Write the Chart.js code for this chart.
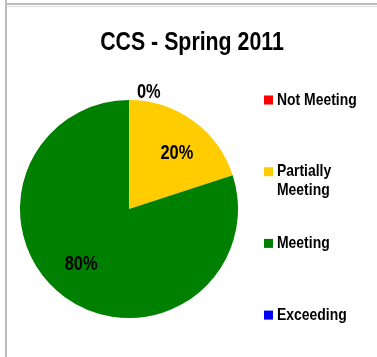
<!DOCTYPE html>
<html>
<head>
<meta charset="utf-8">
<script src="https://cdn.jsdelivr.net/npm/chart.js@4.4.0/dist/chart.umd.min.js"></script>
<style>
    body { margin: 0; background: #ffffff; }
    #wrap { position: relative; width: 377px; height: 357px; overflow: hidden; }
    #myChart { position: absolute; left: 0; top: 0; }
    .line-v { position: absolute; left: 5px; top: 0; width: 2px; height: 357px; background: #bcbcbc; }
    .line-h { position: absolute; left: 7px; top: 3px; width: 370px; height: 2px; background: #bcbcbc; }
    .line-h2 { position: absolute; left: 7px; top: 6px; width: 370px; height: 1px; background: #dcdcdc; }
</style>
</head>
<body>
<div id="wrap">
    <canvas id="myChart" width="377" height="357"></canvas>
    <div class="line-v"></div>
    <div class="line-h"></div>
    <div class="line-h2"></div>
</div>
<script>
// chart data
const chartTitle = 'CCS - Spring 2011';
const categories = ['Not Meeting', 'Partially Meeting', 'Meeting', 'Exceeding'];
const percentValues = [0, 20, 80, 0];
const sliceColors = ['#ff0000', '#ffcc00', '#008000', '#0000ff'];

const fontFamily = "'Liberation Sans', Arial, sans-serif";
// no narrow font installed, so squeeze the text a bit like Arial Narrow
const squeeze = 0.82;

function narrowText(ctx, text, x, y) {
    ctx.save();
    ctx.translate(x, y);
    ctx.scale(squeeze, 1);
    ctx.fillText(text, 0, 0);
    ctx.restore();
}

// draws the title, the percent labels and the legend like the excel chart
const excelLook = {
    id: 'excelLook',
    afterDraw(chart) {
        const ctx = chart.ctx;
        const meta = chart.getDatasetMeta(0);
        ctx.save();
        ctx.fillStyle = '#000000';

        // title
        ctx.font = `bold 26px ${fontFamily}`;
        ctx.textAlign = 'center';
        ctx.textBaseline = 'middle';
        narrowText(ctx, chartTitle, 192, 43);

        // percent labels
        ctx.font = `bold 20px ${fontFamily}`;
        const done = [];
        meta.data.forEach((arc, i) => {
            const p = arc.getProps(['x', 'y', 'startAngle', 'endAngle', 'outerRadius']);
            const value = chart.data.datasets[0].data[i];
            const text = `${value}%`;
            if (value === 0) {
                // zero slices sit outside the pie, at the slice angle
                const a = p.startAngle;
                const px = p.x + Math.cos(a) * p.outerRadius;
                const py = p.y + Math.sin(a) * p.outerRadius;
                const key = Math.round(px) + ',' + Math.round(py);
                if (done.includes(key)) return;
                done.push(key);
                ctx.textAlign = 'left';
                ctx.textBaseline = 'alphabetic';
                narrowText(ctx, text, px + 8, py - 2);
            } else {
                const mid = (p.startAngle + p.endAngle) / 2 + 5 * Math.PI / 180;
                const r = p.outerRadius * 0.67;
                ctx.textAlign = 'center';
                ctx.textBaseline = 'middle';
                narrowText(ctx, text, p.x + Math.cos(mid) * r, p.y + Math.sin(mid) * r);
            }
        });

        // legend on the right
        ctx.font = `bold 17px ${fontFamily}`;
        ctx.textAlign = 'left';
        ctx.textBaseline = 'middle';
        const legendX = 264;
        const legendTop = 100;
        const legendStep = 71.7;
        const maxWidth = 95;
        categories.forEach((name, i) => {
            const y = legendTop + i * legendStep;
            ctx.fillStyle = sliceColors[i];
            ctx.fillRect(legendX, y - 4.5, 9, 9);

            // wrap the label on words
            const words = name.split(' ');
            const lines = [];
            let line = '';
            words.forEach(w => {
                const test = line ? line + ' ' + w : w;
                if (ctx.measureText(test).width * squeeze > maxWidth && line) {
                    lines.push(line);
                    line = w;
                } else {
                    line = test;
                }
            });
            lines.push(line);

            ctx.fillStyle = '#000000';
            lines.forEach((l, j) => {
                narrowText(ctx, l, legendX + 13, y + j * 18.5);
            });
        });
        ctx.restore();
    }
};

const ctx = document.getElementById('myChart').getContext('2d');
const chart = new Chart(ctx, {
    type: 'pie',
    data: {
        labels: categories,
        datasets: [{
            data: percentValues,
            backgroundColor: sliceColors,
            borderWidth: 0
        }]
    },
    options: {
        responsive: false,
        animation: false,
        devicePixelRatio: 1,
        layout: {
            padding: { left: 20, top: 100, right: 139, bottom: 39 }
        },
        plugins: {
            legend: { display: false },
            title: { display: false },
            tooltip: { enabled: false }
        }
    },
    plugins: [excelLook]
});
</script>
</body>
</html>
